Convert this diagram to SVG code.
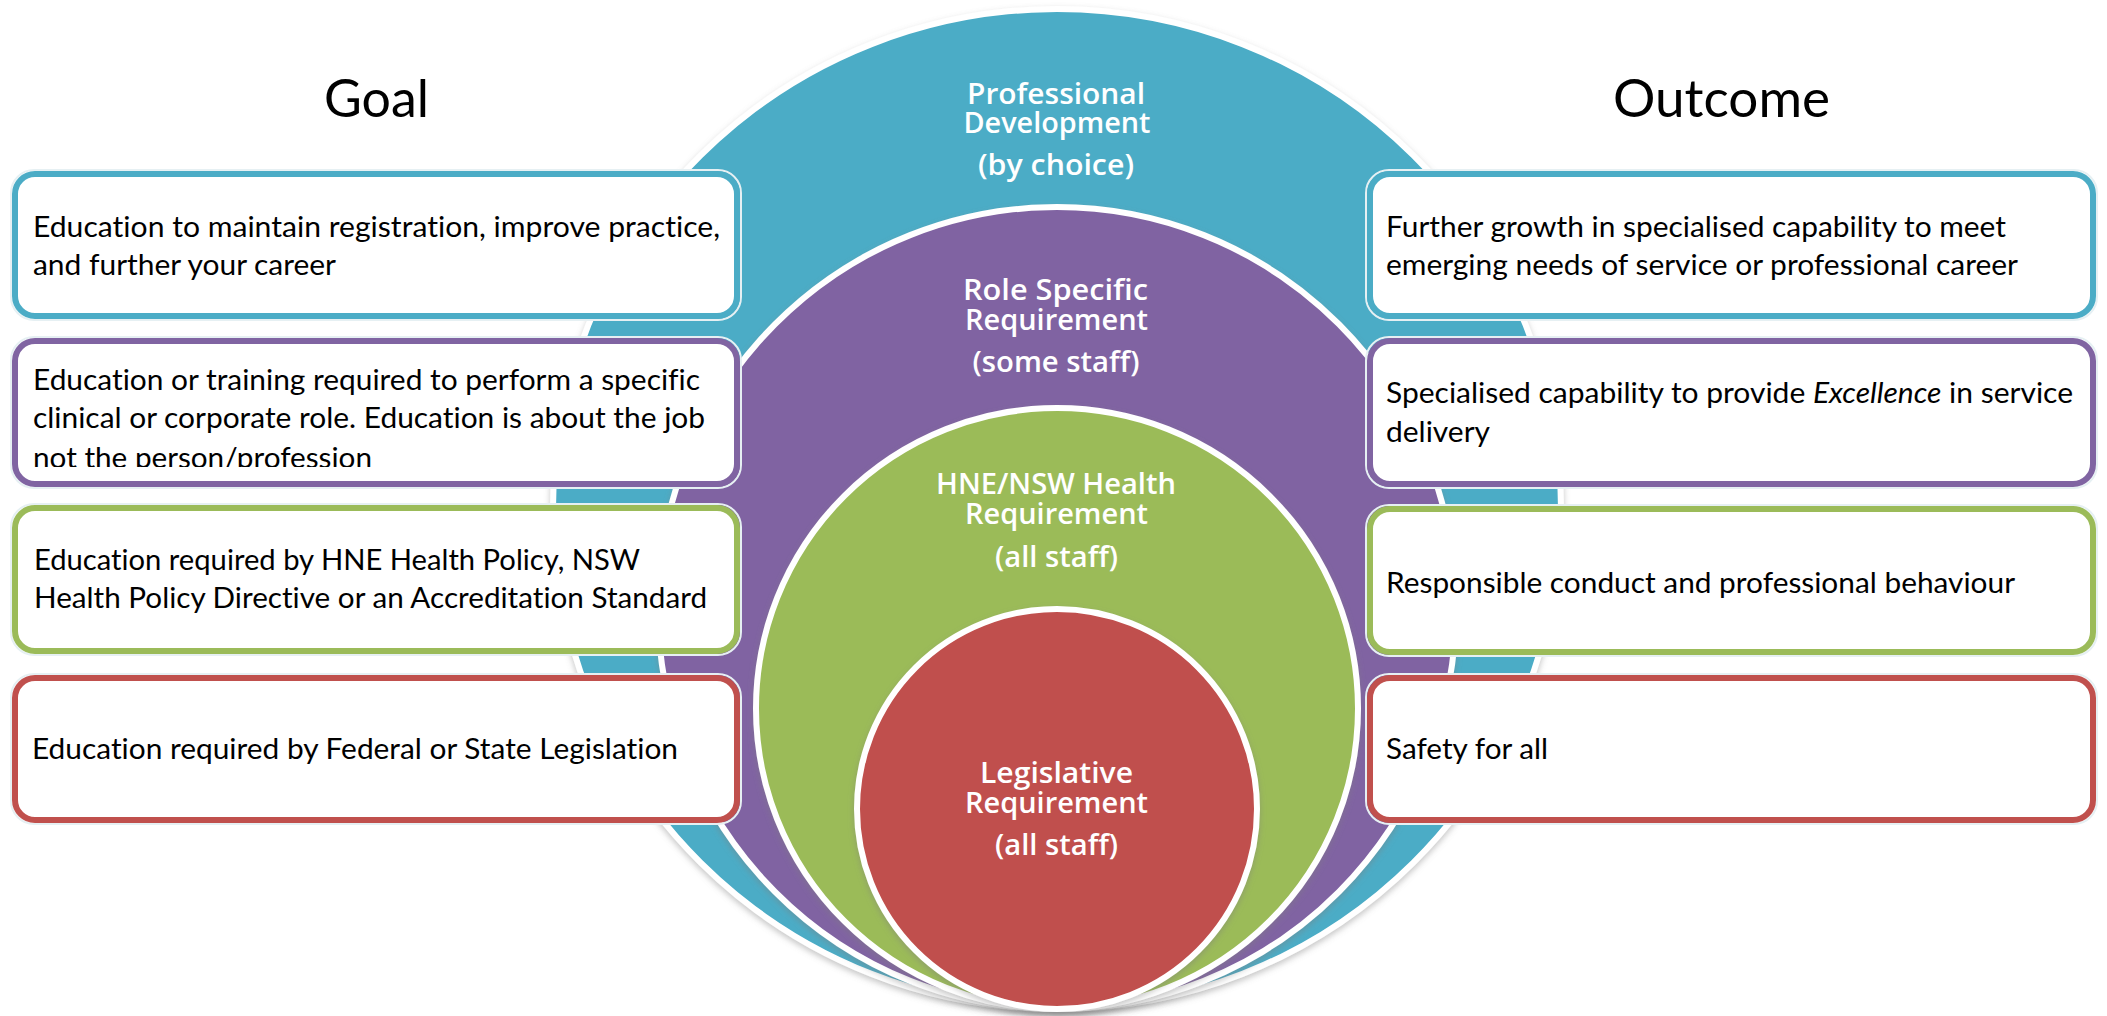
<svg xmlns="http://www.w3.org/2000/svg" width="2107" height="1016" viewBox="0 0 2107 1016">
  <defs>
    <filter id="shadow" x="-10%" y="-10%" width="120%" height="120%">
      <feDropShadow dx="0" dy="3" stdDeviation="3" flood-color="#7f7f7f" flood-opacity="0.45"/>
    </filter>
    <clipPath id="clipPurpleLeft">
      <rect x="18" y="344" width="716" height="123"/>
    </clipPath>
    <style>
      .ring { stroke: #ffffff; stroke-width: 6; filter: url(#shadow); }
      .teal { fill: #4BACC6; }
      .purple { fill: #8064A2; }
      .green { fill: #9BBB59; }
      .red { fill: #C0504D; }
      .box { fill: #ffffff; stroke-width: 6; }
      .bteal { stroke: #4BACC6; }
      .bpurple { stroke: #8064A2; }
      .bgreen { stroke: #9BBB59; }
      .bred { stroke: #C0504D; }
      .halo { fill: none; stroke: #e6f0f3; stroke-width: 2; }
      .ctext { font-family: "Open Sans", "Liberation Sans", sans-serif; font-weight: 600; font-size: 28px; fill: #ffffff; text-anchor: middle; }
      .btext { font-family: Lato, "Liberation Sans", sans-serif; font-size: 29px; fill: #000000; font-variant-ligatures: none; }
      .head { font-family: Lato, "Liberation Sans", sans-serif; font-size: 52px; fill: #000000; text-anchor: middle; font-variant-ligatures: none; }
    </style>
  </defs>

  <rect x="0" y="0" width="2107" height="1016" fill="#ffffff"/>

  <!-- headings -->
  <text class="head" x="376.5" y="117" textLength="105" lengthAdjust="spacingAndGlyphs">Goal</text>
  <text class="head" x="1721.5" y="117" textLength="217" lengthAdjust="spacingAndGlyphs">Outcome</text>

  <!-- nested circles -->
  <g id="professional-development">
    <ellipse class="ring teal" cx="1057" cy="509" rx="504" ry="500"/>
    <text class="ctext" x="1056" y="104" textLength="178" lengthAdjust="spacingAndGlyphs">Professional</text>
    <text class="ctext" x="1057" y="133" textLength="187" lengthAdjust="spacingAndGlyphs">Development</text>
    <text class="ctext" x="1056" y="175" textLength="156" lengthAdjust="spacingAndGlyphs">(by choice)</text>
  </g>
  <g id="role-specific">
    <ellipse class="ring purple" cx="1057" cy="608" rx="399" ry="401"/>
    <text class="ctext" x="1055.5" y="300" textLength="185" lengthAdjust="spacingAndGlyphs">Role Specific</text>
    <text class="ctext" x="1056.5" y="330" textLength="183" lengthAdjust="spacingAndGlyphs">Requirement</text>
    <text class="ctext" x="1056" y="372" textLength="167" lengthAdjust="spacingAndGlyphs">(some staff)</text>
  </g>
  <g id="hne-nsw-health">
    <ellipse class="ring green" cx="1057" cy="708.5" rx="301" ry="300.5"/>
    <text class="ctext" x="1056" y="494" textLength="240" lengthAdjust="spacingAndGlyphs">HNE/NSW Health</text>
    <text class="ctext" x="1056.5" y="524" textLength="183" lengthAdjust="spacingAndGlyphs">Requirement</text>
    <text class="ctext" x="1056.5" y="567" textLength="123" lengthAdjust="spacingAndGlyphs">(all staff)</text>
  </g>
  <g id="legislative">
    <ellipse class="ring red" cx="1057" cy="809" rx="200" ry="200"/>
    <text class="ctext" x="1056.5" y="783" textLength="153" lengthAdjust="spacingAndGlyphs">Legislative</text>
    <text class="ctext" x="1056.5" y="813" textLength="183" lengthAdjust="spacingAndGlyphs">Requirement</text>
    <text class="ctext" x="1056.5" y="855" textLength="123" lengthAdjust="spacingAndGlyphs">(all staff)</text>
  </g>

  <g id="connectors"></g>

  <!-- Goal boxes -->
  <g id="goal-professional">
    <rect class="halo" x="11" y="170" width="730" height="150" rx="23"/>
    <rect class="box bteal" x="15" y="174" width="722" height="142" rx="20"/>
    <text class="btext" x="33" y="237" textLength="687" lengthAdjust="spacingAndGlyphs">Education to maintain registration, improve practice,</text>
    <text class="btext" x="33" y="275" textLength="303" lengthAdjust="spacingAndGlyphs">and further your career</text>
  </g>
  <g id="goal-role">
    <rect class="halo" x="11" y="337" width="730" height="151" rx="23"/>
    <rect class="box bpurple" x="15" y="341" width="722" height="143" rx="20"/>
    <text class="btext" x="33" y="390" textLength="667" lengthAdjust="spacingAndGlyphs">Education or training required to perform a specific</text>
    <text class="btext" x="33" y="428" textLength="672" lengthAdjust="spacingAndGlyphs">clinical or corporate role. Education is about the job</text>
    <g clip-path="url(#clipPurpleLeft)">
      <text class="btext" x="33" y="467.5" textLength="339" lengthAdjust="spacingAndGlyphs">not the person/profession</text>
    </g>
  </g>
  <g id="goal-health">
    <rect class="halo" x="11" y="504" width="730" height="151" rx="23"/>
    <rect class="box bgreen" x="15" y="508" width="722" height="143" rx="20"/>
    <text class="btext" x="34" y="570" textLength="606" lengthAdjust="spacingAndGlyphs">Education required by HNE Health Policy, NSW</text>
    <text class="btext" x="34" y="608" textLength="673" lengthAdjust="spacingAndGlyphs">Health Policy Directive or an Accreditation Standard</text>
  </g>
  <g id="goal-legislative">
    <rect class="halo" x="11" y="674" width="730" height="150" rx="23"/>
    <rect class="box bred" x="15" y="678" width="722" height="142" rx="20"/>
    <text class="btext" x="32" y="759" textLength="646" lengthAdjust="spacingAndGlyphs">Education required by Federal or State Legislation</text>
  </g>

  <!-- Outcome boxes -->
  <g id="outcome-professional">
    <rect class="halo" x="1366" y="170" width="731" height="150" rx="23"/>
    <rect class="box bteal" x="1370" y="174" width="723" height="142" rx="20"/>
    <text class="btext" x="1386" y="237" textLength="620" lengthAdjust="spacingAndGlyphs">Further growth in specialised capability to meet</text>
    <text class="btext" x="1386" y="275" textLength="632" lengthAdjust="spacingAndGlyphs">emerging needs of service or professional career</text>
  </g>
  <g id="outcome-role">
    <rect class="halo" x="1366" y="337" width="731" height="151" rx="23"/>
    <rect class="box bpurple" x="1370" y="341" width="723" height="143" rx="20"/>
    <text class="btext" x="1386" y="403" textLength="687" lengthAdjust="spacingAndGlyphs">Specialised capability to provide <tspan font-style="italic">Excellence</tspan> in service</text>
    <text class="btext" x="1386" y="442" textLength="104" lengthAdjust="spacingAndGlyphs">delivery</text>
  </g>
  <g id="outcome-health">
    <rect class="halo" x="1366" y="505" width="731" height="151" rx="23"/>
    <rect class="box bgreen" x="1370" y="509" width="723" height="143" rx="20"/>
    <text class="btext" x="1386" y="593" textLength="629" lengthAdjust="spacingAndGlyphs">Responsible conduct and professional behaviour</text>
  </g>
  <g id="outcome-legislative">
    <rect class="halo" x="1366" y="674" width="731" height="150" rx="23"/>
    <rect class="box bred" x="1370" y="678" width="723" height="142" rx="20"/>
    <text class="btext" x="1386" y="759" textLength="162" lengthAdjust="spacingAndGlyphs">Safety for all</text>
  </g>
</svg>
